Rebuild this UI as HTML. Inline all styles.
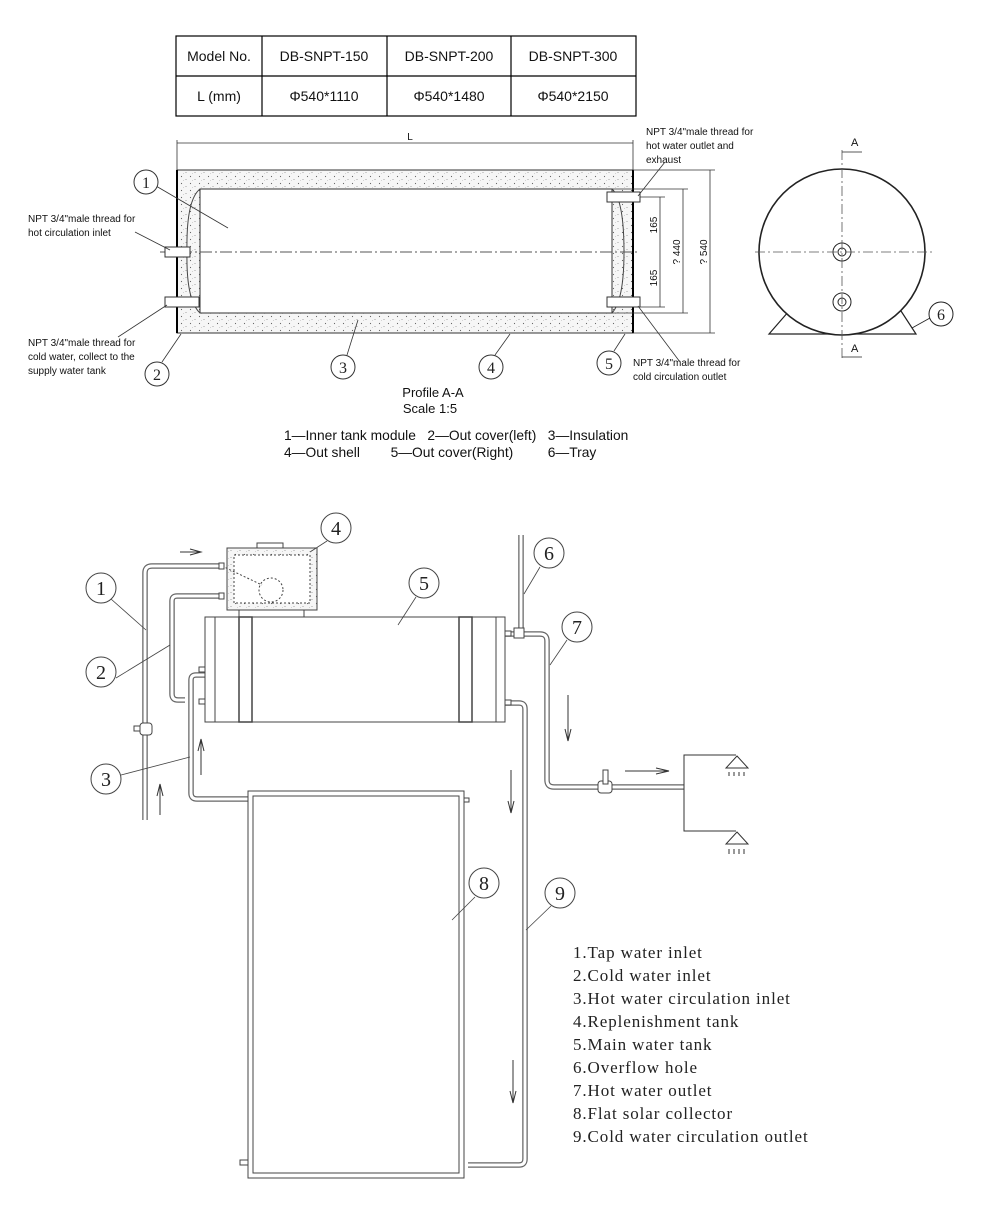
<!DOCTYPE html>
<html><head><meta charset="utf-8"><style>
html,body{margin:0;padding:0;background:#fff;}
svg{display:block;}
.s{font-family:"Liberation Sans",sans-serif;fill:#111;}
.r{font-family:"Liberation Serif",serif;fill:#222;}
</style></head><body>
<svg width="982" height="1211" viewBox="0 0 982 1211" xmlns="http://www.w3.org/2000/svg">
<defs>
<pattern id="dots" width="9" height="7" patternUnits="userSpaceOnUse">
<rect width="9" height="7" fill="#f6f6f6"/>
<circle cx="1.5" cy="1.5" r="0.6" fill="#666"/><circle cx="6" cy="4.5" r="0.5" fill="#888"/><circle cx="3.5" cy="5.5" r="0.4" fill="#aaa"/>
</pattern>
</defs>
<!-- table -->
<g stroke="#000" stroke-width="1.2" fill="none">
<rect x="176" y="36" width="460" height="80"/>
<line x1="176" y1="76" x2="636" y2="76"/>
<line x1="262" y1="36" x2="262" y2="116"/><line x1="387" y1="36" x2="387" y2="116"/><line x1="511" y1="36" x2="511" y2="116"/>
</g>
<g class="s" font-size="14" text-anchor="middle">
<text x="219" y="61">Model No.</text><text x="324" y="61">DB-SNPT-150</text><text x="449" y="61">DB-SNPT-200</text><text x="573" y="61">DB-SNPT-300</text>
<text x="219" y="101">L (mm)</text><text x="324" y="101">Φ540*1110</text><text x="449" y="101">Φ540*1480</text><text x="573" y="101">Φ540*2150</text>
</g>
<!-- top section drawing -->
<rect x="177" y="170" width="456" height="163" fill="url(#dots)" stroke="#333" stroke-width="1"/>
<path d="M200 189 H612 V313 H200 Z" fill="#fff" stroke="#333"/>
<path d="M200 189 Q186 200 187 252 Q186 300 200 313" fill="none" stroke="#444"/>
<path d="M612 189 Q624 200 624 252 Q624 300 612 313" fill="none" stroke="#444"/>
<line x1="177" y1="170" x2="177" y2="333" stroke="#000" stroke-width="2"/>
<line x1="633" y1="170" x2="633" y2="333" stroke="#000" stroke-width="2"/>
<line x1="160" y1="252" x2="640" y2="252" stroke="#555" stroke-dasharray="12,3,2,3"/>
<g fill="#fff" stroke="#333">
<rect x="165" y="247" width="25" height="10"/><rect x="165" y="297" width="34" height="10"/>
<rect x="607" y="192" width="33" height="10"/><rect x="607" y="297" width="33" height="10"/>
</g>
<g stroke="#333" fill="none" stroke-width="0.8">
<line x1="177" y1="143" x2="633" y2="143"/><line x1="177" y1="140" x2="177" y2="170"/><line x1="633" y1="140" x2="633" y2="170"/>
<line x1="640" y1="197" x2="665" y2="197"/><line x1="640" y1="307" x2="665" y2="307"/>
<line x1="660" y1="197" x2="660" y2="307"/>
<line x1="612" y1="189" x2="688" y2="189"/><line x1="612" y1="313" x2="688" y2="313"/><line x1="683" y1="189" x2="683" y2="313"/>
<line x1="633" y1="170" x2="715" y2="170"/><line x1="633" y1="333" x2="715" y2="333"/><line x1="710" y1="170" x2="710" y2="333"/>
</g>
<g class="s" font-size="10">
<text x="410" y="140" text-anchor="middle">L</text>
<text transform="translate(657,225) rotate(-90)" text-anchor="middle">165</text>
<text transform="translate(657,278) rotate(-90)" text-anchor="middle">165</text>
<text transform="translate(680,252) rotate(-90)" text-anchor="middle">? 440</text>
<text transform="translate(707,252) rotate(-90)" text-anchor="middle">? 540</text>
<text x="28" y="222">NPT 3/4"male thread for</text><text x="28" y="236">hot circulation inlet</text>
<text x="28" y="346">NPT 3/4"male thread for</text><text x="28" y="360">cold water, collect to the</text><text x="28" y="374">supply water tank</text>
<text x="646" y="135">NPT 3/4"male thread for</text><text x="646" y="149">hot water outlet and</text><text x="646" y="163">exhaust</text>
<text x="633" y="366">NPT 3/4"male thread for</text><text x="633" y="380">cold circulation outlet</text>
</g>
<g stroke="#333" stroke-width="0.8" fill="none">
<line x1="135" y1="232" x2="170" y2="250"/><line x1="118" y1="337" x2="167" y2="305"/>
<line x1="665" y1="162" x2="638" y2="196"/><line x1="680" y1="362" x2="638" y2="306"/>
<line x1="156" y1="186" x2="228" y2="228"/><line x1="162" y1="362" x2="181" y2="334"/>
<line x1="347" y1="355" x2="358" y2="320"/><line x1="495" y1="355" x2="510" y2="334"/><line x1="614" y1="351" x2="625" y2="334"/>
</g>
<g stroke="#333" fill="#fff">
<circle cx="146" cy="182" r="12"/><circle cx="157" cy="374" r="12"/><circle cx="343" cy="367" r="12"/><circle cx="491" cy="367" r="12"/><circle cx="609" cy="363" r="12"/>
</g>
<g class="r" font-size="16" text-anchor="middle">
<text x="146" y="188">1</text><text x="157" y="380">2</text><text x="343" y="373">3</text><text x="491" y="373">4</text><text x="609" y="369">5</text>
</g>
<!-- end view -->
<g stroke="#222" fill="none">
<path d="M789 311 L769 334 H916 L901 311" stroke-width="1.2"/>
<circle cx="842" cy="252" r="83" stroke-width="1.6" fill="#fff"/>
<circle cx="842" cy="252" r="9"/><circle cx="842" cy="252" r="4"/>
<circle cx="842" cy="302" r="9"/><circle cx="842" cy="302" r="4"/>
<line x1="842" y1="150" x2="842" y2="360" stroke="#555" stroke-dasharray="10,3,2,3" stroke-width="0.8"/>
<line x1="755" y1="252" x2="932" y2="252" stroke="#555" stroke-dasharray="10,3,2,3" stroke-width="0.8"/>
<line x1="842" y1="152" x2="862" y2="152" stroke-width="0.8"/><line x1="842" y1="357" x2="862" y2="357" stroke-width="0.8"/>
<line x1="912" y1="328" x2="930" y2="318" stroke-width="0.8"/>
<circle cx="941" cy="314" r="12" fill="#fff"/>
</g>
<g class="s" font-size="11"><text x="851" y="146">A</text><text x="851" y="352">A</text></g>
<text class="r" x="941" y="320" font-size="16" text-anchor="middle">6</text>
<g class="s" font-size="13" text-anchor="middle">
<text x="433" y="397">Profile A-A</text><text x="430" y="413">Scale 1:5</text>
</g>
<g class="s" font-size="13.8">
<text x="284" y="440">1—Inner tank module&#160;&#160; 2—Out cover(left)&#160;&#160; 3—Insulation</text>
<text x="284" y="457">4—Out shell&#160;&#160;&#160;&#160;&#160;&#160;&#160; 5—Out cover(Right)&#160;&#160;&#160;&#160;&#160;&#160;&#160;&#160; 6—Tray</text>
</g>
<!-- lower system diagram: pipes -->
<g fill="none" stroke-linejoin="round">
<g stroke="#666" stroke-width="5.5">
<path d="M145 820 V573 Q145 566 152 566 H222"/>
<path d="M222 596 H177 Q172 596 172 601 V694 Q172 700 178 700 H185"/>
<path d="M205 675 H196 Q191 675 191 680 V793 Q191 799 197 799 H250"/>
<path d="M505 703 H519 Q525 703 525 709 V1159 Q525 1165 519 1165 H468"/>
<path d="M505 634 H540 Q547 634 547 641 V780 Q547 787 554 787 H684"/>
<path d="M521 535 V632"/>
</g>
<g stroke="#fff" stroke-width="3">
<path d="M145 820 V573 Q145 566 152 566 H222"/>
<path d="M222 596 H177 Q172 596 172 601 V694 Q172 700 178 700 H185"/>
<path d="M205 675 H196 Q191 675 191 680 V793 Q191 799 197 799 H250"/>
<path d="M505 703 H519 Q525 703 525 709 V1159 Q525 1165 519 1165 H468"/>
<path d="M505 634 H540 Q547 634 547 641 V780 Q547 787 554 787 H684"/>
<path d="M521 535 V632"/>
</g>
</g>
<!-- tank -->
<g stroke="#444" fill="#fff" stroke-width="1">
<rect x="227" y="548" width="90" height="62" fill="url(#dots)"/>
<rect x="257" y="543" width="26" height="5"/>
<rect x="234" y="555" width="76" height="48" fill="#fff" stroke-dasharray="2,2"/>
<circle cx="271" cy="590" r="12" stroke-dasharray="2,2"/>
<line x1="222" y1="566" x2="262" y2="585" stroke-dasharray="2,2"/>
<rect x="239" y="610" width="65" height="7"/>
<rect x="205" y="617" width="300" height="105"/>
<line x1="215" y1="617" x2="215" y2="722"/><line x1="496" y1="617" x2="496" y2="722"/>
<rect x="239" y="617" width="13" height="105" stroke-width="1.5"/><rect x="459" y="617" width="13" height="105" stroke-width="1.5"/>
<rect x="219" y="563" width="5" height="6"/><rect x="219" y="593" width="5" height="6"/>
<rect x="199" y="667" width="6" height="5"/><rect x="199" y="699" width="6" height="5"/>
<rect x="505" y="631" width="6" height="5"/><rect x="505" y="700" width="6" height="5"/>
<rect x="514" y="628" width="10" height="10"/>
<rect x="134" y="726" width="12" height="5"/><rect x="140" y="723" width="12" height="12" rx="3"/>
<rect x="598" y="781" width="14" height="12" rx="3"/><rect x="603" y="770" width="5" height="14"/>
<!-- collector -->
<rect x="248" y="791" width="216" height="387"/>
<rect x="253" y="796" width="206" height="377"/>
<rect x="464" y="798" width="5" height="4"/><rect x="240" y="1160" width="8" height="5"/>
</g>
<!-- arrows -->
<g stroke="#333" fill="none" stroke-width="1">
<path d="M180 552 H200 M190 549 L201 552 L190 555"/>
<path d="M160 815 V785 M157 796 L160 784 L163 796"/>
<path d="M201 775 V740 M198 751 L201 739 L204 751"/>
<path d="M568 695 V740 M565 729 L568 741 L571 729"/>
<path d="M511 770 V812 M508 801 L511 813 L514 801"/>
<path d="M513 1060 V1102 M510 1091 L513 1103 L516 1091"/>
<path d="M625 771 H668 M656 768 L669 771 L656 774"/>
<path d="M736 755 H684 V831 H736"/>
<path d="M737 756 L748 768 H726 Z M729 772 v4 M734 772 v4 M739 772 v4 M744 772 v4"/>
<path d="M737 832 L748 844 H726 Z M729 849 v5 M734 849 v5 M739 849 v5 M744 849 v5"/>
</g>
<!-- balloons lower -->
<g stroke="#444" stroke-width="0.8" fill="none">
<line x1="111" y1="599" x2="146" y2="630"/><line x1="116" y1="678" x2="170" y2="645"/><line x1="121" y1="775" x2="190" y2="757"/>
<line x1="327" y1="541" x2="310" y2="552"/><line x1="416" y1="597" x2="398" y2="625"/><line x1="540" y1="567" x2="524" y2="594"/>
<line x1="567" y1="640" x2="550" y2="665"/><line x1="475" y1="897" x2="452" y2="920"/><line x1="551" y1="906" x2="526" y2="930"/>
</g>
<g stroke="#444" fill="#fff">
<circle cx="101" cy="588" r="15"/><circle cx="101" cy="672" r="15"/><circle cx="106" cy="779" r="15"/>
<circle cx="336" cy="528" r="15"/><circle cx="424" cy="583" r="15"/><circle cx="549" cy="553" r="15"/>
<circle cx="577" cy="627" r="15"/><circle cx="484" cy="883" r="15"/><circle cx="560" cy="893" r="15"/>
</g>
<g class="r" font-size="20" text-anchor="middle">
<text x="101" y="595">1</text><text x="101" y="679">2</text><text x="106" y="786">3</text>
<text x="336" y="535">4</text><text x="424" y="590">5</text><text x="549" y="560">6</text>
<text x="577" y="634">7</text><text x="484" y="890">8</text><text x="560" y="900">9</text>
</g>
<g class="r" font-size="17" letter-spacing="0.9">
<text x="573" y="958">1.Tap water inlet</text>
<text x="573" y="981">2.Cold water inlet</text>
<text x="573" y="1004">3.Hot water circulation inlet</text>
<text x="573" y="1027">4.Replenishment tank</text>
<text x="573" y="1050">5.Main water tank</text>
<text x="573" y="1073">6.Overflow hole</text>
<text x="573" y="1096">7.Hot water outlet</text>
<text x="573" y="1119">8.Flat solar collector</text>
<text x="573" y="1142">9.Cold water circulation outlet</text>
</g>
</svg>
</body></html>
